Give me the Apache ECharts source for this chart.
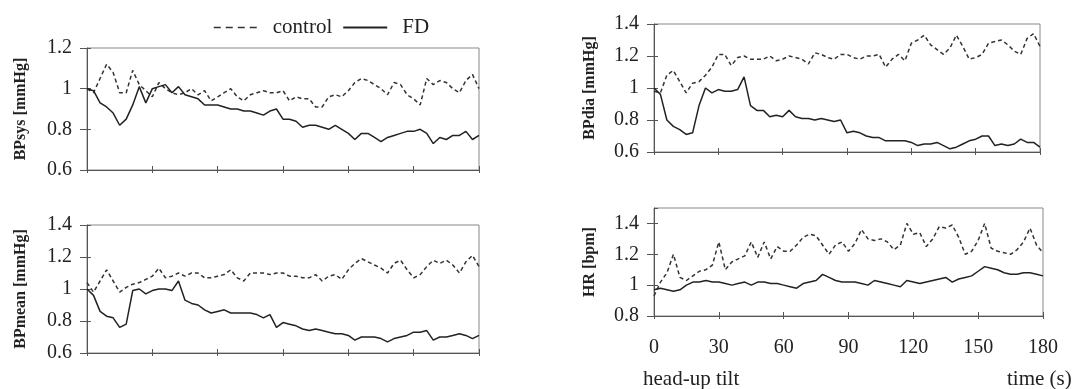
<!DOCTYPE html>
<html>
<head>
<meta charset="utf-8">
<script src="https://cdn.jsdelivr.net/npm/echarts@6/dist/echarts.min.js"></script>
<style>
  html, body { margin: 0; padding: 0; background: #fff; }
  #chart { width: 1072px; height: 389px; }
</style>
</head>
<body>
<div id="chart"></div>
<script>
// time (s) after head-up tilt, 3 s steps
const TIME = [0, 3, 6, 9, 12, 15, 18, 21, 24, 27, 30, 33, 36, 39, 42, 45, 48, 51, 54, 57,
  60, 63, 66, 69, 72, 75, 78, 81, 84, 87, 90, 93, 96, 99, 102, 105, 108, 111, 114, 117,
  120, 123, 126, 129, 132, 135, 138, 141, 144, 147, 150, 153, 156, 159, 162, 165, 168, 171, 174, 177, 180]

// normalized BPsys
const BPSYS_CONTROL = [1.00, 0.98, 1.05, 1.12, 1.08, 0.98, 0.98, 1.09, 1.02, 0.99, 0.96, 1.03, 1.00, 0.98, 0.97, 0.98, 1.00, 0.97, 0.99, 0.94,
  0.96, 0.98, 1.00, 0.96, 0.94, 0.97, 0.98, 0.99, 0.98, 0.98, 0.99, 0.94, 0.96, 0.95, 0.95, 0.91, 0.91, 0.96, 0.97, 0.96,
  0.99, 1.03, 1.05, 1.04, 1.02, 1.00, 0.97, 1.03, 1.02, 0.97, 0.95, 0.92, 1.05, 1.02, 1.04, 1.03, 1.00, 0.98, 1.04, 1.07, 1.00]
const BPSYS_FD = [1.00, 0.99, 0.93, 0.91, 0.88, 0.82, 0.85, 0.92, 1.01, 0.93, 1.00, 1.01, 1.02, 0.98, 1.01, 0.97, 0.96, 0.95, 0.92, 0.92,
  0.92, 0.91, 0.90, 0.90, 0.89, 0.89, 0.88, 0.87, 0.89, 0.90, 0.85, 0.85, 0.84, 0.81, 0.82, 0.82, 0.81, 0.80, 0.82, 0.80,
  0.78, 0.75, 0.78, 0.78, 0.76, 0.74, 0.76, 0.77, 0.78, 0.79, 0.79, 0.80, 0.78, 0.73, 0.76, 0.75, 0.77, 0.77, 0.79, 0.75, 0.77]

// normalized BPmean
const BPMEAN_CONTROL = [1.04, 0.98, 1.05, 1.12, 1.05, 0.98, 1.01, 1.03, 1.04, 1.06, 1.08, 1.13, 1.07, 1.08, 1.10, 1.08, 1.10, 1.10, 1.07, 1.07,
  1.08, 1.09, 1.12, 1.07, 1.05, 1.10, 1.10, 1.10, 1.09, 1.10, 1.10, 1.08, 1.08, 1.07, 1.07, 1.09, 1.05, 1.08, 1.09, 1.06,
  1.12, 1.16, 1.19, 1.17, 1.15, 1.13, 1.10, 1.16, 1.18, 1.12, 1.07, 1.09, 1.14, 1.18, 1.16, 1.18, 1.15, 1.10, 1.17, 1.21, 1.14]
const BPMEAN_FD = [1.00, 0.96, 0.86, 0.83, 0.82, 0.76, 0.78, 0.99, 1.00, 0.97, 0.99, 1.00, 1.00, 0.99, 1.05, 0.93, 0.91, 0.90, 0.87, 0.85,
  0.86, 0.87, 0.85, 0.85, 0.85, 0.85, 0.84, 0.82, 0.84, 0.76, 0.79, 0.78, 0.77, 0.75, 0.74, 0.75, 0.74, 0.73, 0.72, 0.72,
  0.71, 0.68, 0.70, 0.70, 0.70, 0.69, 0.67, 0.69, 0.70, 0.71, 0.73, 0.73, 0.74, 0.68, 0.70, 0.70, 0.71, 0.72, 0.71, 0.69, 0.71]

// normalized BPdia
const BPDIA_CONTROL = [0.98, 0.97, 1.08, 1.11, 1.04, 0.97, 1.03, 1.04, 1.08, 1.13, 1.21, 1.21, 1.14, 1.19, 1.20, 1.18, 1.18, 1.18, 1.20, 1.17,
  1.18, 1.20, 1.19, 1.18, 1.15, 1.22, 1.21, 1.19, 1.18, 1.21, 1.21, 1.19, 1.18, 1.20, 1.20, 1.21, 1.13, 1.18, 1.21, 1.17,
  1.28, 1.30, 1.33, 1.27, 1.24, 1.21, 1.25, 1.33, 1.26, 1.18, 1.19, 1.21, 1.28, 1.29, 1.30, 1.27, 1.23, 1.21, 1.31, 1.34, 1.26]
const BPDIA_FD = [1.00, 0.96, 0.80, 0.76, 0.74, 0.71, 0.72, 0.89, 1.00, 0.97, 0.99, 0.98, 0.98, 0.99, 1.07, 0.89, 0.86, 0.86, 0.82, 0.83,
  0.82, 0.86, 0.82, 0.81, 0.81, 0.80, 0.81, 0.80, 0.79, 0.80, 0.72, 0.73, 0.72, 0.70, 0.69, 0.69, 0.67, 0.67, 0.67, 0.67,
  0.66, 0.64, 0.65, 0.65, 0.66, 0.64, 0.62, 0.63, 0.65, 0.67, 0.68, 0.70, 0.70, 0.64, 0.65, 0.64, 0.65, 0.68, 0.66, 0.66, 0.63]

// normalized HR
const HR_CONTROL = [0.93, 1.02, 1.08, 1.20, 1.05, 1.03, 1.06, 1.09, 1.10, 1.13, 1.28, 1.10, 1.15, 1.17, 1.19, 1.28, 1.18, 1.28, 1.17, 1.25,
  1.22, 1.22, 1.26, 1.31, 1.33, 1.32, 1.26, 1.20, 1.26, 1.28, 1.22, 1.27, 1.36, 1.30, 1.29, 1.30, 1.28, 1.23, 1.26, 1.40,
  1.33, 1.34, 1.25, 1.30, 1.38, 1.37, 1.39, 1.31, 1.20, 1.22, 1.29, 1.40, 1.24, 1.22, 1.21, 1.20, 1.23, 1.28, 1.37, 1.26, 1.21]
const HR_FD = [0.97, 0.98, 0.97, 0.96, 0.97, 1.00, 1.02, 1.02, 1.03, 1.02, 1.02, 1.01, 1.00, 1.01, 1.02, 1.00, 1.02, 1.02, 1.01, 1.01,
  1.00, 0.99, 0.98, 1.01, 1.02, 1.03, 1.07, 1.05, 1.03, 1.02, 1.02, 1.02, 1.01, 1.00, 1.03, 1.02, 1.01, 1.00, 0.99, 1.03,
  1.02, 1.01, 1.02, 1.03, 1.04, 1.05, 1.02, 1.04, 1.05, 1.06, 1.09, 1.12, 1.11, 1.10, 1.08, 1.07, 1.07, 1.08, 1.08, 1.07, 1.06]

const X_TICKS = { min: 0, max: 180, interval: 30 }

// one entry per panel
const PANELS = [
  { name: 'BPsys [mmHg]', control: BPSYS_CONTROL, fd: BPSYS_FD, min: 0.6, max: 1.2,
    grid: { left: 87, top: 48, width: 392, height: 122 }, nameGap: 58, xLabels: false },
  { name: 'BPmean [mmHg]', control: BPMEAN_CONTROL, fd: BPMEAN_FD, min: 0.6, max: 1.4,
    grid: { left: 87, top: 225, width: 392, height: 128 }, nameGap: 58, xLabels: false },
  { name: 'BPdia [mmHg]', control: BPDIA_CONTROL, fd: BPDIA_FD, min: 0.6, max: 1.4,
    grid: { left: 654, top: 24, width: 386, height: 128 }, nameGap: 56, xLabels: false },
  { name: 'HR [bpm]', control: HR_CONTROL, fd: HR_FD, min: 0.8, max: 1.5,
    grid: { left: 654, top: 208, width: 389, height: 108 }, nameGap: 56, xLabels: true },
]

const FONT = 'Liberation Serif, Times New Roman, serif'
const AXIS_COLOR = '#555'

const chart = echarts.init(document.getElementById('chart'), null, { renderer: 'canvas' })

const grids = []
const xAxes = []
const yAxes = []
const series = []

PANELS.forEach((p, i) => {
  grids.push({ ...p.grid, show: true, borderColor: '#888', borderWidth: 1, containLabel: false })

  // main x axis: outward ticks, labels only on the last panel
  xAxes.push({
    type: 'value', gridIndex: i, position: 'bottom', ...X_TICKS,
    axisLine: { onZero: false, lineStyle: { color: AXIS_COLOR, width: 1 } },
    axisTick: { show: true, inside: false, length: 3, lineStyle: { color: AXIS_COLOR } },
    axisLabel: { show: p.xLabels, margin: 22, fontFamily: FONT, fontSize: 20, color: '#222' },
    splitLine: { show: false },
  })
  // second x axis only to draw the inner half of the crossing ticks
  xAxes.push({
    type: 'value', gridIndex: i, position: 'bottom', ...X_TICKS,
    axisLine: { show: false, onZero: false },
    axisTick: { show: true, inside: true, length: 4, lineStyle: { color: AXIS_COLOR } },
    axisLabel: { show: false },
    splitLine: { show: false },
  })

  yAxes.push({
    type: 'value', gridIndex: i, position: 'left', min: p.min, max: p.max, interval: 0.2,
    name: p.name, nameLocation: 'middle', nameGap: p.nameGap,
    nameTextStyle: { fontFamily: FONT, fontSize: 16, fontWeight: 'bold', color: '#222' },
    axisLine: { onZero: false, lineStyle: { color: AXIS_COLOR, width: 1 } },
    axisTick: { show: true, inside: false, length: 7, lineStyle: { color: AXIS_COLOR } },
    axisLabel: {
      margin: 15, fontFamily: FONT, fontSize: 20, color: '#222', showMaxLabel: p.max === 1.5 ? false : true,
      formatter: v => (Math.abs(v - 1) < 1e-9 ? '1' : v.toFixed(1)),
    },
    splitLine: { show: false },
  })
  yAxes.push({
    type: 'value', gridIndex: i, position: 'left', min: p.min, max: p.max, interval: 0.2,
    axisLine: { show: false, onZero: false },
    axisTick: { show: true, inside: true, length: 4, lineStyle: { color: AXIS_COLOR } },
    axisLabel: { show: false },
    splitLine: { show: false },
  })

  series.push({
    name: 'control', type: 'line', xAxisIndex: i * 2, yAxisIndex: i * 2,
    data: TIME.map((t, k) => [t, p.control[k]]),
    showSymbol: false, symbol: 'none',
    lineStyle: { color: '#333', width: 1.5, type: [4, 3] },
    itemStyle: { color: '#333' },
  })
  series.push({
    name: 'FD', type: 'line', xAxisIndex: i * 2, yAxisIndex: i * 2,
    data: TIME.map((t, k) => [t, p.fd[k]]),
    showSymbol: false, symbol: 'none',
    lineStyle: { color: '#222', width: 1.5, type: 'solid' },
    itemStyle: { color: '#222' },
  })
})

chart.setOption({
  animation: false,
  backgroundColor: '#fff',
  legend: {
    data: [
      { name: 'control', lineStyle: { type: [7, 5], width: 1.5 } },
      { name: 'FD' },
    ],
    left: 208, top: 12,
    itemWidth: 44, itemHeight: 12, itemGap: 10,
    itemStyle: { opacity: 0 },
    textStyle: { fontFamily: FONT, fontSize: 21, color: '#222', padding: [0, 0, 0, 10] },
  },
  grid: grids,
  xAxis: xAxes,
  yAxis: yAxes,
  series,
  graphic: [
    { type: 'text', left: 643, top: 369, style: { text: 'head-up tilt', font: '21px ' + FONT, fill: '#222' } },
    { type: 'text', left: 1007, top: 369, style: { text: 'time (s)', font: '21px ' + FONT, fill: '#222' } },
  ],
})
</script>
</body>
</html>
